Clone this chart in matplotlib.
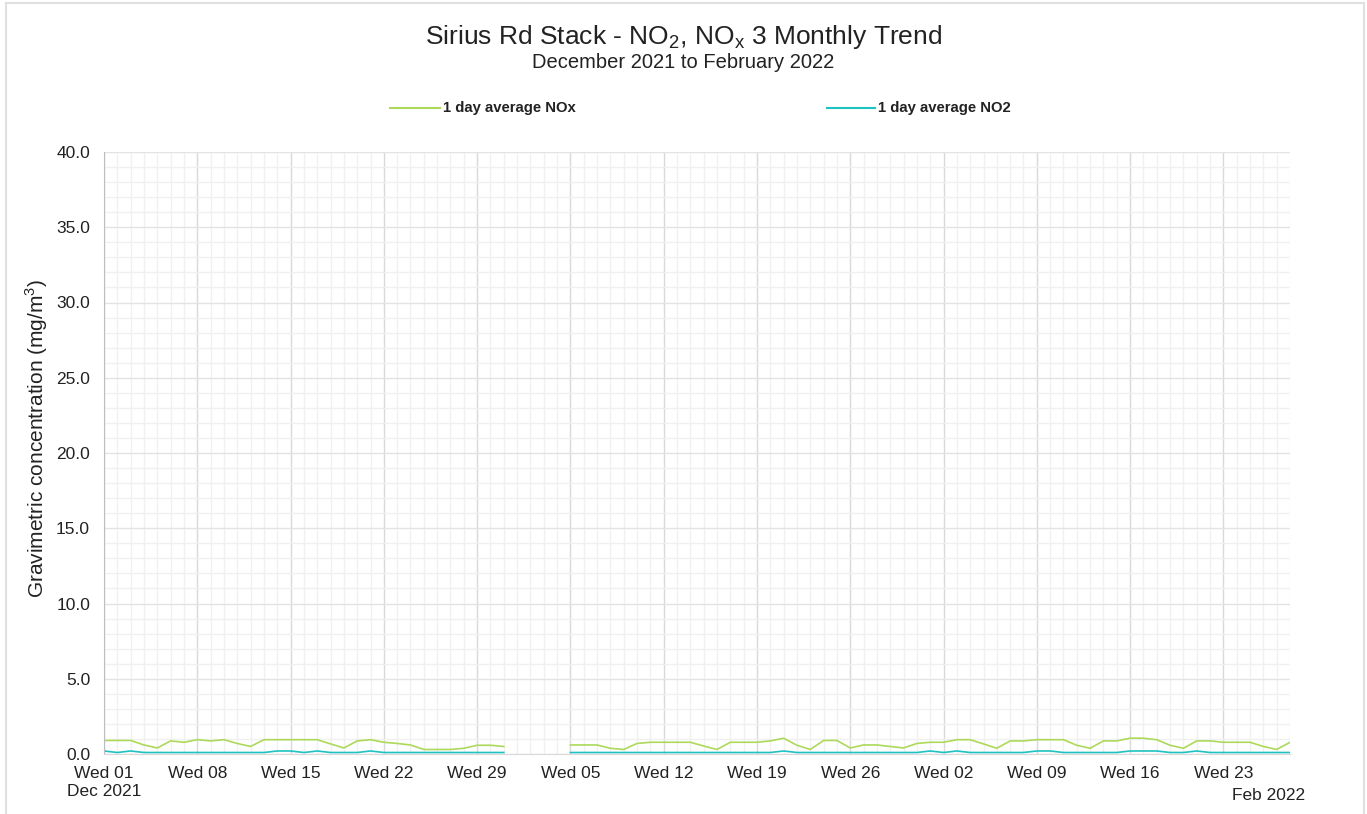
import numpy as np
import pandas as pd
import matplotlib
matplotlib.use("Agg")
import matplotlib.pyplot as plt
import matplotlib.dates as mdates
from matplotlib.lines import Line2D

# Daily averages, 1 Dec 2021 - 28 Feb 2022 (mg/m3), NaN = no data
dates = pd.date_range("2021-12-01", "2022-02-28", freq="D")

nox_dec = [0.9, 0.9, 0.9, 0.6, 0.4, 0.87, 0.78, 0.95, 0.87, 0.95,
           0.7, 0.5, 0.95, 0.95, 0.95, 0.95, 0.95, 0.67, 0.4, 0.87,
           0.95, 0.78, 0.7, 0.6, 0.3, 0.3, 0.3, 0.38, 0.58, 0.58, 0.5]
nox_jan = [np.nan, np.nan, np.nan, np.nan,
           0.6, 0.6, 0.6, 0.38, 0.3, 0.7, 0.78, 0.78, 0.78, 0.78,
           0.53, 0.3, 0.78, 0.78, 0.78, 0.87, 1.05, 0.58, 0.3, 0.9,
           0.9, 0.4, 0.6, 0.6, 0.5, 0.4, 0.7]
nox_feb = [0.78, 0.78, 0.95, 0.95, 0.67, 0.38, 0.87, 0.87, 0.95, 0.95,
           0.95, 0.58, 0.38, 0.87, 0.87, 1.05, 1.05, 0.95, 0.58, 0.38,
           0.87, 0.87, 0.78, 0.78, 0.78, 0.5, 0.3, 0.78]

no2_dec = [0.2, 0.1, 0.2, 0.1, 0.1, 0.1, 0.1, 0.1, 0.1, 0.1,
           0.1, 0.1, 0.1, 0.2, 0.2, 0.1, 0.2, 0.1, 0.1, 0.1,
           0.2, 0.1, 0.1, 0.1, 0.1, 0.1, 0.1, 0.1, 0.1, 0.1, 0.1]
no2_jan = [np.nan, np.nan, np.nan, np.nan,
           0.1, 0.1, 0.1, 0.1, 0.1, 0.1, 0.1, 0.1, 0.1, 0.1,
           0.1, 0.1, 0.1, 0.1, 0.1, 0.1, 0.2, 0.1, 0.1, 0.1,
           0.1, 0.1, 0.1, 0.1, 0.1, 0.1, 0.1]
no2_feb = [0.2, 0.1, 0.2, 0.1, 0.1, 0.1, 0.1, 0.1, 0.2, 0.2,
           0.1, 0.1, 0.1, 0.1, 0.1, 0.2, 0.2, 0.2, 0.1, 0.1,
           0.2, 0.1, 0.1, 0.1, 0.1, 0.1, 0.1, 0.1]

nox = nox_dec + nox_jan + nox_feb
no2 = no2_dec + no2_jan + no2_feb

nox_color = "#acd95a"
no2_color = "#1fc2c2"
txt = "#222222"

plt.rcParams["font.family"] = ["Liberation Sans", "DejaVu Sans"]
plt.rcParams["mathtext.fontset"] = "custom"
plt.rcParams["mathtext.rm"] = "Liberation Sans"

W, H = 1367, 814
fig = plt.figure(figsize=(W / 100, H / 100), dpi=100)
ax = fig.add_axes([104 / W, 1 - 754 / H, 1186 / W, 602 / H])

ax.plot(dates, nox, color=nox_color, lw=1.2)
ax.plot(dates, no2, color=no2_color, lw=1.2)

ax.set_xlim(dates[0], dates[-1])
ax.set_ylim(0, 40)

ax.xaxis.set_major_locator(mdates.WeekdayLocator(byweekday=mdates.WE))
ax.xaxis.set_minor_locator(mdates.DayLocator())
fmt = mdates.DateFormatter("Wed %d")
ax.xaxis.set_major_formatter(plt.FuncFormatter(
    lambda v, p: fmt(v, p) + ("\nDec 2021" if p == 0 else "")))
ax.set_yticks(np.arange(0, 40.1, 5))
ax.set_yticks(np.arange(0, 40.1, 1), minor=True)
ax.yaxis.set_major_formatter(plt.FormatStrFormatter("%.1f"))

ax.tick_params(axis="both", which="both", length=0, labelsize=12.5, colors=txt)
ax.tick_params(axis="y", pad=10)
ax.tick_params(axis="x", pad=9)
for lab in ax.get_xticklabels():
    lab.set_linespacing(1.25)

ax.grid(which="minor", color="#f0f0f0", lw=1.0)
ax.grid(which="major", axis="x", color="#d9d9d9", lw=1.0)
ax.grid(which="major", axis="y", color="#e3e3e3", lw=1.0)
ax.set_axisbelow(True)
for s in ["top", "right"]:
    ax.spines[s].set_visible(False)
ax.spines["left"].set_color("#bdbdbd")
ax.spines["bottom"].set_color("#d9d9d9")

ax.set_ylabel("Gravimetric concentration (mg/m$^3$)", fontsize=15, color=txt)
ax.yaxis.set_label_coords(-(104 - 50) / 1186, (754 - 438) / 602)
ax.text((1305 - 104) / 1186, -(795 - 754) / 602, "Feb 2022", transform=ax.transAxes,
        ha="right", va="center", fontsize=12.5, color=txt)

fig.text(0.5, 1 - 37 / H, r"Sirius Rd Stack - NO$_2$, NO$_\mathrm{x}$ 3 Monthly Trend",
         ha="center", va="center", fontsize=19, color=txt)
fig.text(0.5, 1 - 63 / H, "December 2021 to February 2022", ha="center", va="center",
         fontsize=14.5, color=txt)

# legend, drawn by hand to keep the wide spacing of the original
for x0, x1, col, label in [(390, 440, nox_color, "1 day average NOx"),
                           (827, 875, no2_color, "1 day average NO2")]:
    fig.add_artist(Line2D([x0 / W, x1 / W], [1 - 108 / H] * 2, color=col, lw=1.5,
                          transform=fig.transFigure))
    fig.text((x1 + 3) / W, 1 - 108 / H, label, ha="left", va="center",
             fontsize=10.7, fontweight="bold", color=txt)

# thin frame around the whole chart
for xs, ys in [([6, 6], [H, 3]), ([6, 1364], [3, 3]), ([1364, 1364], [3, H])]:
    fig.add_artist(Line2D([x / W for x in xs], [1 - y / H for y in ys], color="#e0e0e0",
                          lw=1.5, transform=fig.transFigure))

fig.savefig("out.png", dpi=100)
